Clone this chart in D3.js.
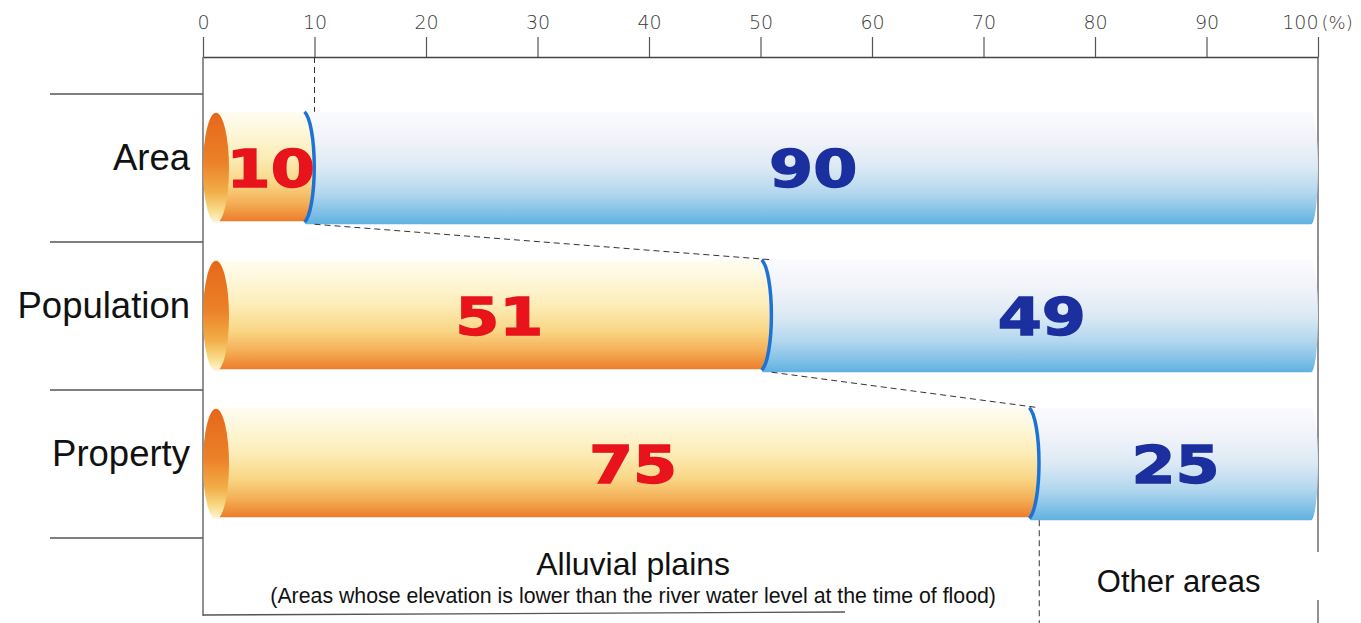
<!DOCTYPE html>
<html><head><meta charset="utf-8">
<script src="https://cdn.jsdelivr.net/npm/d3@7"></script>
<style>
html,body{margin:0;padding:0;background:#fff;}
svg{display:block;}
</style></head>
<body>
<svg id="chart" width="1361" height="623"></svg>
<script>
const categories = ["Area", "Population", "Property"];
const alluvialValues = [10, 51, 75];
const otherValues = [90, 49, 25];
const tickValues = [0, 10, 20, 30, 40, 50, 60, 70, 80, 90, 100];
const groupLabels = ["Alluvial plains", "Other areas"];
const noteText = "(Areas whose elevation is lower than the river water level at the time of flood)";

const svg = d3.select("#chart");
const x = d3.scaleLinear().domain([0, 100]).range([203, 1318]);
const y = d3.scaleBand().domain(categories).range([94, 538]).padding(0);
const barH = y.bandwidth() * 0.76;
const axisY = 57;

const defs = svg.append("defs");
function vgrad(id, stops) {
  const g = defs.append("linearGradient").attr("id", id).attr("x1", 0).attr("y1", 0).attr("x2", 0).attr("y2", 1);
  stops.forEach(s => g.append("stop").attr("offset", s[0]).attr("stop-color", s[1]));
}
vgrad("orangeBody", [[0, "#fffdf3"], [0.15, "#fef8de"], [0.42, "#fcecb6"], [0.65, "#f9d685"], [0.84, "#f4ad55"], [1, "#ec7d2a"]]);
vgrad("orangeCap", [[0, "#e6681a"], [0.45, "#eb8128"], [0.72, "#f2ae48"], [0.9, "#f9df90"], [1, "#fff6dc"]]);
vgrad("blueBody", [[0, "#fbfbfe"], [0.25, "#f1f3f9"], [0.5, "#dbe9f4"], [0.72, "#b3d7ee"], [0.9, "#7fc0e6"], [1, "#5fb1e0"]]);

// top axis
const axis = d3.axisTop(x).tickValues(tickValues).tickSize(20).tickSizeOuter(0).tickPadding(8);
const ag = svg.append("g").attr("transform", `translate(0,${axisY})`).call(axis);
ag.select(".domain").attr("stroke", "#444").attr("stroke-width", 1.3);
ag.selectAll(".tick line").attr("stroke", "#555").attr("stroke-width", 1.2);
ag.selectAll(".tick text").attr("font-family", "'DejaVu Sans', sans-serif").attr("font-size", 19)
  .attr("font-weight", 300).attr("fill", "#3a3a3a");
ag.selectAll(".tick").filter(d => d === 100).select("text").attr("text-anchor", "end").attr("x", 0);
ag.selectAll(".tick").filter(d => d === 100).append("text")
  .attr("x", 3).attr("y", -28).attr("dy", "0em").attr("text-anchor", "start")
  .attr("font-family", "'DejaVu Sans', sans-serif").attr("font-size", 18).attr("font-weight", 300)
  .attr("fill", "#3a3a3a").text("(%)");

// frame lines
const frame = svg.append("g").attr("stroke", "#555").attr("stroke-width", 1.3).attr("fill", "none");
frame.append("line").attr("x1", x(0)).attr("x2", x(0)).attr("y1", axisY).attr("y2", 616);
frame.append("line").attr("x1", x(0)).attr("x2", 845).attr("y1", 615).attr("y2", 612);
frame.append("line").attr("x1", x(100)).attr("x2", x(100)).attr("y1", axisY).attr("y2", 552);
frame.append("line").attr("x1", x(100)).attr("x2", x(100)).attr("y1", 600).attr("y2", 623);
const sepYs = categories.map(c => y(c)).concat([y.range()[1]]);
frame.selectAll("line.sep").data(sepYs).join("line").attr("class", "sep")
  .attr("x1", 50).attr("x2", x(0)).attr("y1", d => d).attr("y2", d => d);

// category labels
svg.append("g").selectAll("text").data(categories).join("text")
  .attr("x", 190).attr("y", d => y(d) + y.bandwidth() / 2 + 2)
  .attr("text-anchor", "end").attr("font-family", "'Liberation Sans', Arial, sans-serif")
  .attr("font-size", 36.5).attr("fill", "#111").text(d => d);

// bars
const capRx = 13, endR = 9, blueEndR = 7;
const rows = categories.map((c, i) => {
  const top = y(c) + (y.bandwidth() - barH) / 2;
  return { c, a: alluvialValues[i], o: otherValues[i], top, bot: top + barH, mid: top + barH / 2 };
});

const bars = svg.append("g");
rows.forEach(r => {
  const x0 = x(0), x1 = x(r.a), x2 = x(r.a + r.o);
  bars.append("path")
    .attr("d", `M${x1 - endR},${r.top} H${x2 - blueEndR} A${blueEndR},${barH / 2} 0 0 1 ${x2 - blueEndR},${r.bot} H${x1 - endR} Z`)
    .attr("fill", "url(#blueBody)");
  bars.append("path")
    .attr("d", `M${x0 + capRx},${r.top} H${x1 - endR} A${endR},${barH / 2} 0 0 1 ${x1 - endR},${r.bot - 3} H${x0 + capRx} Z`)
    .attr("fill", "url(#orangeBody)");
  bars.append("ellipse").attr("cx", x0 + capRx).attr("cy", r.mid).attr("rx", capRx).attr("ry", barH / 2 - 1)
    .attr("fill", "url(#orangeCap)");
  bars.append("path")
    .attr("d", `M${x1 - endR - 1},${r.top} A${endR + 3},${barH / 2} 0 0 1 ${x1 - endR - 1},${r.bot - 2}`)
    .attr("fill", "none").attr("stroke", "#1d72d6").attr("stroke-width", 3.5);
});

// value labels
const valFont = 52, capH = valFont * 0.729;
function valueLabel(cx, cy, txt, color) {
  svg.append("text")
    .attr("transform", `translate(${cx},${cy + capH / 2}) scale(1.22,1)`)
    .attr("text-anchor", "middle").attr("font-family", "'DejaVu Sans', sans-serif")
    .attr("font-weight", "bold").attr("font-size", valFont)
    .attr("fill", color).attr("stroke", color).attr("stroke-width", 1.4)
    .text(txt);
}
rows.forEach(r => {
  valueLabel((x(0) + x(r.a)) / 2 + 12, r.mid, r.a, "#e8131b");
  valueLabel((x(r.a) + x(r.a + r.o)) / 2 - 3, r.mid, r.o, "#1c2f9e");
});

// dashed connectors
const dash = svg.append("g").attr("stroke", "#333").attr("stroke-width", 1).attr("stroke-dasharray", "6,4").attr("fill", "none");
dash.append("line").attr("x1", x(rows[0].a)).attr("x2", x(rows[0].a)).attr("y1", axisY).attr("y2", rows[0].top);
for (let i = 0; i < rows.length - 1; i++) {
  dash.append("line").attr("x1", x(rows[i].a)).attr("y1", rows[i].bot)
    .attr("x2", x(rows[i + 1].a)).attr("y2", rows[i + 1].top);
}
const last = rows[rows.length - 1];
dash.append("line").attr("x1", x(last.a)).attr("x2", x(last.a)).attr("y1", last.bot).attr("y2", 623);

// group labels
svg.append("text").attr("x", (x(0) + x(last.a)) / 2 + 12).attr("y", 575).attr("text-anchor", "middle")
  .attr("font-family", "'Liberation Sans', Arial, sans-serif").attr("font-size", 32).attr("fill", "#111")
  .text(groupLabels[0]);
svg.append("text").attr("x", (x(0) + x(last.a)) / 2 + 12).attr("y", 603).attr("text-anchor", "middle")
  .attr("font-family", "'Liberation Sans', Arial, sans-serif").attr("font-size", 21.3).attr("fill", "#111")
  .text(noteText);
svg.append("text").attr("x", (x(last.a) + x(100)) / 2).attr("y", 592).attr("text-anchor", "middle")
  .attr("font-family", "'Liberation Sans', Arial, sans-serif").attr("font-size", 31).attr("fill", "#111")
  .text(groupLabels[1]);
</script>
</body></html>
